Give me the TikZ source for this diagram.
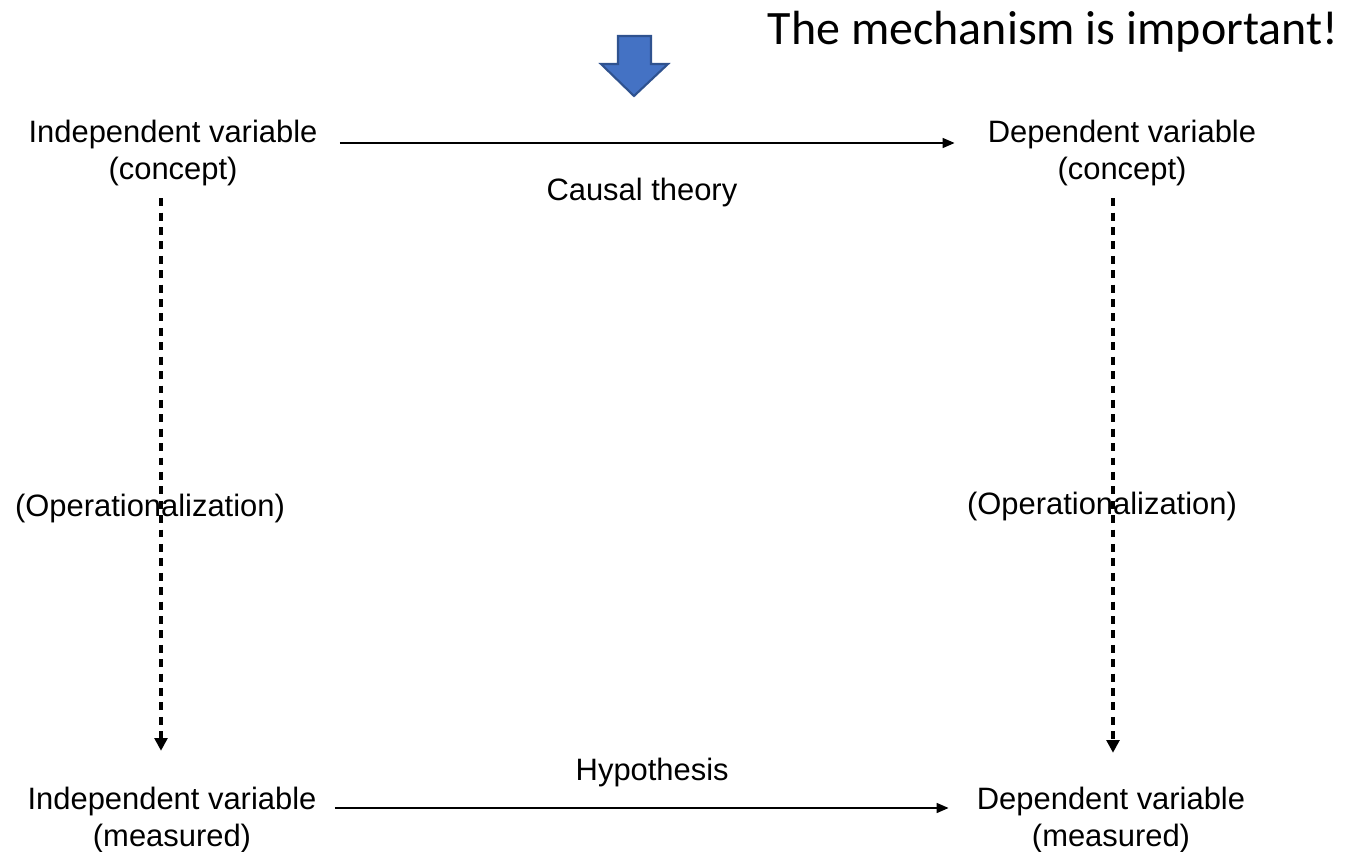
\documentclass[tikz,border=0pt]{standalone}
\usepackage{fontspec}
\setmainfont{Liberation Sans}
\newfontfamily\titlefont{Carlito}
\usetikzlibrary{arrows.meta}
\definecolor{slideblue}{HTML}{4472C4}
\definecolor{slideblueedge}{HTML}{2F528F}

\begin{document}
\begin{tikzpicture}[x=0.02cm,y=-0.02cm,
    varbox/.style={align=center,inner sep=0pt,font=\fontsize{17.6}{21}\selectfont},
    lbl/.style={inner sep=0pt,font=\fontsize{17.6}{21}\selectfont},
    conn/.style={-{Triangle[length=6.8pt,width=5.7pt]},line width=0.85pt},
    opconn/.style={-{Triangle[length=7.2pt,width=7.2pt]},line width=1.9pt,dash pattern=on 4.5pt off 3.7pt}]
    \useasboundingbox (0,0) rectangle (1347,852);

    \node[font=\fontsize{27.3}{32}\selectfont\titlefont,inner sep=0pt] (title) at (1053,32) {The mechanism is important!};
    \draw[fill=slideblue,draw=slideblueedge,line width=1.2pt]
        (618,36) -- (651,36) -- (651,64) -- (668,64) -- (634,96) -- (601,64) -- (618,64) -- cycle;

    \node[varbox] (ivc) at (173,153) {Independent variable\\(concept)};
    \node[varbox] (dvc) at (1122,153) {Dependent variable\\(concept)};
    \node[varbox] (ivm) at (172,820) {Independent variable\\(measured)};
    \node[varbox] (dvm) at (1111,820) {Dependent variable\\(measured)};

    \node[lbl] (opl) at (150,509) {(Operationalization)};
    \node[lbl] (opr) at (1102,507) {(Operationalization)};

    \draw[conn] ([shift={(22,-10)}]ivc.east) -- node[lbl,below=19.5pt,xshift=-3pt] (causal) {Causal theory} ([shift={(-33,-10)}]dvc.west);
    \draw[conn] ([shift={(18,-12)}]ivm.east) -- node[lbl,above=11.5pt,xshift=6pt] (hyp) {Hypothesis} ([shift={(-28,-12)}]dvm.west);

    \draw[opconn] ([shift={(-12,12)}]ivc.south) -- ([shift={(-11,-36)}]ivm.north);
    \draw[opconn] ([shift={(-9,12)}]dvc.south) -- ([shift={(2,-34)}]dvm.north);
\end{tikzpicture}
\end{document}
